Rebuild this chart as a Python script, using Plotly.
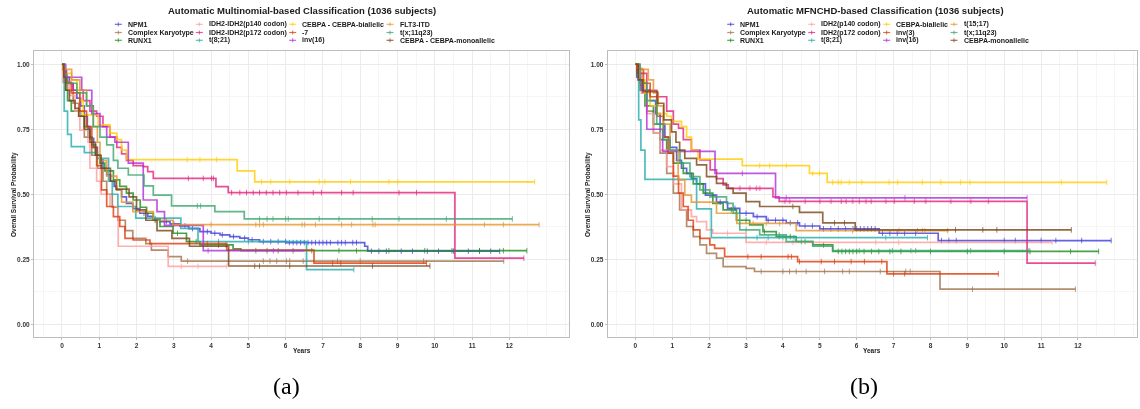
import plotly.graph_objects as go

W, H = 1140, 409

# ---------------- Panel (a): Multinomial-based ----------------
A_NPM1_T = [0, 0.05, 0.12, 0.2, 0.3, 0.4, 0.5, 0.6, 0.68, 0.75, 0.85, 0.95, 1.02, 1.1, 1.2, 1.3, 1.4, 1.47, 1.6, 1.73, 1.9, 2.09, 2.3, 2.45, 2.63, 2.9, 3.16, 3.4, 3.7, 4.0, 4.24, 4.5, 4.77, 5.0, 5.3, 6.02, 8.12, 8.2, 11.74]
A_NPM1_S = [1, 0.975, 0.95, 0.925, 0.9, 0.87, 0.84, 0.8, 0.76, 0.715, 0.68, 0.65, 0.632, 0.6, 0.575, 0.55, 0.53, 0.517, 0.49, 0.465, 0.445, 0.427, 0.415, 0.405, 0.395, 0.386, 0.378, 0.368, 0.356, 0.35, 0.344, 0.337, 0.331, 0.325, 0.318, 0.314, 0.3, 0.281, 0.281]
A_NPM1_C = [2.2, 2.5, 2.8, 3.0, 3.3, 3.5, 3.9, 4.1, 4.3, 4.6, 4.9, 5.1, 5.4, 5.6, 5.8, 6.0, 6.1, 6.2, 6.3, 6.4, 6.5, 6.6, 6.7, 6.8, 6.9, 7.0, 7.1, 7.2, 7.4, 7.5, 7.6, 7.8, 7.9, 8.3, 8.5, 8.7, 9.1, 9.4, 9.8, 10.1, 10.5, 10.9, 11.2, 11.5, 11.74]

A_CK_T = [0, 0.05, 0.15, 0.3, 0.45, 0.6, 0.8, 0.95, 1.1, 1.2, 1.35, 1.5, 1.7, 1.9, 2.25, 2.4, 2.85, 3.2, 11.85]
A_CK_S = [1, 0.95, 0.9, 0.85, 0.8, 0.72, 0.65, 0.6, 0.55, 0.5, 0.45, 0.4, 0.36, 0.33, 0.31, 0.285, 0.26, 0.243, 0.243]
A_CK_C = [3.37, 5.4, 5.58, 5.76, 6.02, 6.11, 6.47, 7.39, 8.0, 9.7, 11.85]

A_RUNX1_T = [0, 0.05, 0.1, 0.15, 0.25, 0.5, 0.6, 0.7, 0.8, 0.9, 1.02, 1.15, 1.38, 1.55, 1.73, 1.91, 2.1, 2.27, 2.45, 2.63, 2.98, 3.34, 3.7, 4.59, 4.8, 12.47]
A_RUNX1_S = [1, 0.93, 0.9, 0.86, 0.82, 0.8, 0.76, 0.72, 0.69, 0.65, 0.62, 0.59, 0.555, 0.53, 0.504, 0.478, 0.45, 0.427, 0.4, 0.376, 0.35, 0.318, 0.305, 0.29, 0.283, 0.283]
A_RUNX1_C = [2.5, 3.1, 3.6, 4.2, 4.4, 5.2, 5.5, 5.8, 6.2, 6.7, 7.43, 7.9, 8.77, 9.73, 10.46, 11.2, 11.84, 12.47]

A_P140_T = [0, 0.02, 0.2, 0.35, 0.48, 0.7, 0.75, 0.93, 1.05, 1.29, 1.51, 2.85, 4.42]
A_P140_S = [1, 0.93, 0.88, 0.82, 0.747, 0.7, 0.6, 0.55, 0.5, 0.453, 0.3, 0.223, 0.223]
A_P140_C = [3.2, 3.65, 4.42]

A_P172_T = [0, 0.05, 0.13, 0.3, 0.57, 0.75, 0.93, 1.1, 1.29, 1.47, 1.6, 1.73, 1.91, 2.18, 2.3, 2.45, 4.13, 4.46, 10.54, 12.39]
A_P172_S = [1, 0.965, 0.927, 0.9, 0.86, 0.82, 0.8, 0.76, 0.72, 0.68, 0.655, 0.63, 0.61, 0.606, 0.587, 0.561, 0.529, 0.506, 0.254, 0.254]
A_P172_C = [3.39, 3.79, 4.01, 4.06, 4.55, 4.77, 4.95, 5.13, 5.3, 5.48, 5.66, 5.84, 6.02, 6.33, 6.74, 6.96, 7.5, 7.81, 9.04, 9.51, 12.39]

A_T821_T = [0, 0.06, 0.15, 0.25, 0.6, 0.95, 1.25, 1.35, 1.5, 1.98, 3.19, 3.65, 6.56, 7.83]
A_T821_S = [1, 0.82, 0.73, 0.683, 0.66, 0.638, 0.55, 0.5, 0.453, 0.408, 0.369, 0.318, 0.21, 0.21]
A_T821_C = [4.2, 5.0, 7.83]

A_BIAL_T = [0, 0.05, 0.26, 0.4, 0.48, 0.57, 0.97, 1.29, 1.47, 1.6, 1.73, 4.7, 5.17, 12.68]
A_BIAL_S = [1, 0.965, 0.94, 0.9, 0.86, 0.805, 0.767, 0.735, 0.71, 0.67, 0.633, 0.59, 0.548, 0.548]
A_BIAL_C = [3.36, 3.7, 4.15, 5.35, 5.6, 6.11, 6.9, 7.05, 7.74, 8.77, 9.01, 12.68]

A_M7_T = [0, 0.03, 0.1, 0.25, 0.48, 0.66, 0.8, 0.93, 1.06, 1.2, 1.38, 1.55, 1.69, 1.91, 2.36, 4.42, 6.76, 9.78]
A_M7_S = [1, 0.98, 0.93, 0.89, 0.82, 0.76, 0.68, 0.61, 0.517, 0.453, 0.414, 0.376, 0.33, 0.324, 0.31, 0.285, 0.235, 0.235]
A_M7_C = [3.9, 4.2, 7.26, 7.48, 9.78]

A_INV16_T = [0, 0.1, 0.53, 0.8, 1.02, 1.2, 1.42, 1.78, 2.18, 2.55, 2.75, 3.79, 6.5]
A_INV16_S = [1, 0.95, 0.9, 0.81, 0.76, 0.72, 0.7, 0.62, 0.478, 0.433, 0.38, 0.283, 0.283]
A_INV16_C = [3.92, 5.67]

A_FLT3_T = [0, 0.03, 0.26, 0.48, 0.66, 0.84, 0.95, 1.02, 1.2, 1.47, 1.6, 1.9, 2.45, 2.98, 12.8]
A_FLT3_S = [1, 0.98, 0.94, 0.9, 0.84, 0.76, 0.7, 0.63, 0.57, 0.517, 0.47, 0.433, 0.4, 0.383, 0.383]
A_FLT3_C = [4.0, 5.2, 5.3, 5.4, 6.44, 6.51, 6.8, 7.5, 7.77, 8.34, 8.4, 11.33, 11.84, 12.8]

A_MLL_T = [0, 0.05, 0.12, 0.4, 0.66, 0.84, 1.02, 1.2, 1.38, 1.5, 1.78, 2.2, 2.45, 2.94, 4.1, 4.89, 12.08]
A_MLL_S = [1, 0.96, 0.927, 0.89, 0.84, 0.76, 0.72, 0.69, 0.63, 0.6, 0.574, 0.532, 0.497, 0.455, 0.433, 0.405, 0.405]
A_MLL_C = [3.63, 3.72, 5.3, 5.5, 5.66, 6.0, 6.07, 6.9, 7.43, 8.32, 9.04, 10.31, 12.08]

A_MONO_T = [0, 0.05, 0.1, 0.2, 0.35, 0.45, 0.6, 0.75, 0.9, 1.05, 1.3, 1.45, 1.8, 2.0, 2.25, 2.55, 2.95, 3.42, 4.47, 9.87]
A_MONO_S = [1, 0.95, 0.9, 0.86, 0.83, 0.8, 0.75, 0.7, 0.65, 0.6, 0.55, 0.52, 0.49, 0.44, 0.4, 0.36, 0.33, 0.3, 0.224, 0.224]
A_MONO_C = [5.17, 5.3, 6.11, 8.33, 9.87]

# ---------------- Panel (b): MFNCHD-based ----------------
B_NPM1_T = [0, 0.04, 0.15, 0.22, 0.4, 0.55, 0.67, 0.8, 0.94, 1.12, 1.25, 1.39, 1.52, 1.66, 1.9, 2.2, 2.5, 2.83, 3.2, 3.55, 4.09, 4.45, 5.0, 6.61, 8.21, 12.9]
B_NPM1_S = [1, 0.95, 0.92, 0.9, 0.86, 0.81, 0.77, 0.72, 0.68, 0.63, 0.6, 0.58, 0.56, 0.54, 0.497, 0.47, 0.446, 0.427, 0.414, 0.4, 0.39, 0.378, 0.367, 0.35, 0.322, 0.322]
B_NPM1_C = [2.3, 2.7, 3.0, 3.3, 3.6, 3.8, 4.0, 4.2, 4.4, 4.6, 4.8, 5.1, 5.3, 5.5, 5.7, 5.9, 6.0, 6.1, 6.2, 6.3, 6.4, 6.5, 6.7, 6.9, 7.1, 7.3, 7.6, 8.3, 8.5, 8.7, 10.0, 10.3, 11.0, 11.4, 12.1, 12.9]

B_CK_T = [0, 0.04, 0.17, 0.31, 0.49, 0.67, 0.85, 1.03, 1.2, 1.39, 1.57, 1.75, 1.93, 2.2, 2.38, 3.0, 3.23, 8.26, 11.93]
B_CK_S = [1, 0.965, 0.89, 0.82, 0.735, 0.658, 0.58, 0.504, 0.44, 0.376, 0.337, 0.305, 0.273, 0.254, 0.222, 0.215, 0.203, 0.135, 0.135]
B_CK_C = [3.41, 4.0, 4.18, 4.36, 4.63, 5.13, 5.62, 5.8, 6.64, 7.33, 7.45, 9.14, 11.93]

B_RUNX1_T = [0, 0.04, 0.13, 0.26, 0.49, 0.67, 0.85, 1.03, 1.3, 1.57, 1.84, 2.1, 2.38, 2.74, 3.1, 3.46, 3.82, 4.36, 4.81, 5.35, 12.56]
B_RUNX1_S = [1, 0.965, 0.9, 0.84, 0.77, 0.71, 0.658, 0.62, 0.58, 0.54, 0.504, 0.465, 0.44, 0.4, 0.382, 0.356, 0.337, 0.318, 0.305, 0.28, 0.28]
B_RUNX1_C = [2.6, 3.0, 3.5, 3.9, 4.2, 4.6, 5.1, 5.5, 5.6, 5.7, 5.8, 5.9, 6.0, 6.2, 6.4, 6.6, 6.9, 7.2, 8.0, 9.0, 10.0, 10.7, 11.8, 12.56]

B_P140_T = [0, 0.05, 0.17, 0.31, 0.49, 0.67, 0.85, 1.03, 1.25, 1.52, 1.66, 1.93, 2.1, 3.0, 11.3]
B_P140_S = [1, 0.985, 0.89, 0.81, 0.735, 0.67, 0.606, 0.54, 0.44, 0.414, 0.395, 0.363, 0.35, 0.315, 0.315]
B_P140_C = [2.5, 3.55, 4.27, 6.52, 7.14, 11.3]

B_P172_T = [0, 0.08, 0.31, 0.58, 0.85, 1.03, 1.17, 1.3, 1.52, 1.75, 2.03, 2.2, 2.38, 2.52, 3.73, 3.9, 10.62, 12.47]
B_P172_S = [1, 0.965, 0.9, 0.875, 0.82, 0.77, 0.754, 0.71, 0.67, 0.632, 0.594, 0.56, 0.536, 0.523, 0.49, 0.473, 0.235, 0.235]
B_P172_C = [2.83, 3.1, 3.28, 3.37, 4.05, 4.18, 4.6, 5.0, 5.3, 5.58, 5.71, 5.89, 6.07, 6.25, 6.39, 6.79, 7.02, 7.56, 7.87, 8.55, 9.09, 9.57, 12.47]

B_T821_T = [0, 0.09, 0.15, 0.26, 1.66, 2.06, 7.92]
B_T821_S = [1, 0.786, 0.67, 0.557, 0.444, 0.333, 0.333]
B_T821_C = [3.3, 3.6, 4.0, 4.3, 6.79, 7.92]

B_BIAL_T = [0, 0.12, 0.26, 0.4, 0.58, 0.85, 0.98, 1.25, 1.39, 1.52, 1.7, 2.9, 4.72, 5.2, 12.78]
B_BIAL_S = [1, 0.94, 0.89, 0.84, 0.81, 0.8, 0.78, 0.76, 0.72, 0.67, 0.635, 0.61, 0.58, 0.546, 0.546]
B_BIAL_C = [3.37, 3.64, 4.09, 4.81, 4.99, 5.35, 5.5, 5.58, 5.8, 6.14, 6.88, 7.11, 7.78, 8.28, 8.82, 9.07, 11.55, 12.78]

B_INV3_T = [0, 0.04, 0.22, 0.4, 0.58, 0.76, 0.89, 1.03, 1.17, 1.3, 1.43, 1.57, 1.75, 2.02, 2.15, 2.42, 4.4, 6.82, 9.84]
B_INV3_S = [1, 0.98, 0.927, 0.875, 0.8, 0.72, 0.658, 0.57, 0.504, 0.453, 0.4, 0.363, 0.33, 0.305, 0.292, 0.26, 0.241, 0.194, 0.194]
B_INV3_C = [3.05, 3.41, 4.14, 4.23, 4.45, 5.04, 5.4, 5.85, 6.21, 6.68, 7.0, 7.3, 9.84]

B_INV16_T = [0, 0.08, 0.17, 0.31, 0.74, 2.16, 3.8, 10.62]
B_INV16_S = [1, 0.94, 0.9, 0.75, 0.665, 0.58, 0.486, 0.486]
B_INV16_C = [2.9, 4.09, 7.31, 10.62]

B_T1517_T = [0, 0.12, 0.35, 0.49, 0.62, 0.76, 0.94, 1.16, 1.34, 1.52, 2.2, 2.75, 4.36, 8.5]
B_T1517_S = [1, 0.98, 0.94, 0.89, 0.84, 0.77, 0.67, 0.555, 0.497, 0.47, 0.427, 0.388, 0.36, 0.36]
B_T1517_C = [3.19, 3.55, 3.91, 5.89, 7.15, 7.65, 7.78, 7.85, 8.46]

B_MLL_T = [0, 0.13, 0.31, 0.58, 0.76, 0.94, 1.21, 1.48, 1.75, 2.02, 2.47, 2.65, 2.83, 3.37, 4.09, 4.81, 5.35, 10.67]
B_MLL_S = [1, 0.927, 0.86, 0.77, 0.71, 0.67, 0.62, 0.568, 0.517, 0.49, 0.465, 0.427, 0.363, 0.344, 0.318, 0.3, 0.283, 0.283]
B_MLL_C = [3.0, 3.9, 4.5, 6.07, 6.97, 7.47, 7.6, 9.09, 10.67]

B_MONO_T = [0, 0.08, 0.2, 0.6, 0.77, 0.98, 1.1, 1.2, 1.34, 1.66, 1.93, 2.2, 2.47, 2.65, 3.0, 3.37, 4.45, 5.08, 5.96, 11.82]
B_MONO_S = [1, 0.94, 0.895, 0.85, 0.786, 0.74, 0.7, 0.67, 0.638, 0.613, 0.568, 0.542, 0.523, 0.504, 0.472, 0.453, 0.43, 0.39, 0.363, 0.363]
B_MONO_C = [4.27, 5.4, 5.67, 8.68, 9.42, 9.8, 11.82]

# ---------------- labels / colours ----------------
A_TITLE = "Automatic Multinomial-based Classification (1036 subjects)"
B_TITLE = "Automatic MFNCHD-based Classification (1036 subjects)"
A_LABELS = ["NPM1", "Complex Karyotype", "RUNX1",
            "IDH2-IDH2(p140 codon)", "IDH2-IDH2(p172 codon)", "t(8;21)",
            "CEBPA - CEBPA-biallelic", "-7", "inv(16)",
            "FLT3-ITD", "t(x;11q23)", "CEBPA - CEBPA-monoallelic"]
B_LABELS = ["NPM1", "Complex Karyotype", "RUNX1",
            "IDH2(p140 codon)", "IDH2(p172 codon)", "t(8;21)",
            "CEBPA-biallelic", "inv(3)", "inv(16)",
            "t(15;17)", "t(x;11q23)", "CEBPA-monoallelic"]
COLORS = ["#3D3DDB", "#A0724B", "#1F8A1F",
          "#FF9E9E", "#E3217F", "#22ADAA",
          "#FFCC00", "#DD3A0A", "#B02FD9",
          "#E5952B", "#39A56E", "#7A4416"]
XTICKS = list(range(0, 13))
YTICKS = [0, 0.25, 0.5, 0.75, 1.0]

A_CURVES = [(A_NPM1_T, A_NPM1_S, A_NPM1_C), (A_CK_T, A_CK_S, A_CK_C), (A_RUNX1_T, A_RUNX1_S, A_RUNX1_C),
            (A_P140_T, A_P140_S, A_P140_C), (A_P172_T, A_P172_S, A_P172_C), (A_T821_T, A_T821_S, A_T821_C),
            (A_BIAL_T, A_BIAL_S, A_BIAL_C), (A_M7_T, A_M7_S, A_M7_C), (A_INV16_T, A_INV16_S, A_INV16_C),
            (A_FLT3_T, A_FLT3_S, A_FLT3_C), (A_MLL_T, A_MLL_S, A_MLL_C), (A_MONO_T, A_MONO_S, A_MONO_C)]
B_CURVES = [(B_NPM1_T, B_NPM1_S, B_NPM1_C), (B_CK_T, B_CK_S, B_CK_C), (B_RUNX1_T, B_RUNX1_S, B_RUNX1_C),
            (B_P140_T, B_P140_S, B_P140_C), (B_P172_T, B_P172_S, B_P172_C), (B_T821_T, B_T821_S, B_T821_C),
            (B_BIAL_T, B_BIAL_S, B_BIAL_C), (B_INV3_T, B_INV3_S, B_INV3_C), (B_INV16_T, B_INV16_S, B_INV16_C),
            (B_T1517_T, B_T1517_S, B_T1517_C), (B_MLL_T, B_MLL_S, B_MLL_C), (B_MONO_T, B_MONO_S, B_MONO_C)]


def step_at(T, S, t):
    v = S[0]
    for ti, si in zip(T, S):
        if ti <= t:
            v = si
    return v


fig = go.Figure()
for curves, labels, xa, ya in [(A_CURVES, A_LABELS, "x", "y"), (B_CURVES, B_LABELS, "x2", "y2")]:
    for (T, S, C), lab, col in zip(curves, labels, COLORS):
        fig.add_trace(go.Scatter(x=T, y=S, mode="lines", line=dict(color=col, width=1.7, shape="hv"),
                                 opacity=0.8, name=lab, showlegend=False, xaxis=xa, yaxis=ya))
        fig.add_trace(go.Scatter(x=C, y=[step_at(T, S, c) for c in C], mode="markers",
                                 marker=dict(symbol="line-ns", size=4, line=dict(color=col, width=1)),
                                 opacity=0.7, showlegend=False, hoverinfo="skip", xaxis=xa, yaxis=ya))

FONT = "Liberation Sans"


def px(x):
    return x / W


def py(y):
    return 1 - y / H


axis_common = dict(showline=True, mirror=True, linecolor="#BDBDBD", linewidth=1,
                   showgrid=True, gridcolor="#EBEBEB", gridwidth=0.8, zeroline=False,
                   ticks="outside", ticklen=2, tickcolor="#BDBDBD",
                   tickfont=dict(family=FONT, size=6.5, color="#333333", weight="bold"))
y_dom = [py(337), py(51)]
fig.update_layout(
    width=W, height=H, margin=dict(l=0, r=0, t=0, b=0),
    paper_bgcolor="white", plot_bgcolor="white", showlegend=False,
    xaxis=dict(domain=[px(34), px(569)], range=[-0.75, 13.6], tickvals=XTICKS, anchor="y",
               minor=dict(dtick=0.5, showgrid=True, gridcolor="#F5F5F5", gridwidth=0.5), **axis_common),
    yaxis=dict(domain=y_dom, range=[-0.049, 1.051], tickvals=YTICKS, tickformat=".2f", anchor="x",
               minor=dict(dtick=0.125, showgrid=True, gridcolor="#F5F5F5", gridwidth=0.5), **axis_common),
    xaxis2=dict(domain=[px(607.7), px(1137)], range=[-0.75, 13.6], tickvals=XTICKS, anchor="y2",
                minor=dict(dtick=0.5, showgrid=True, gridcolor="#F5F5F5", gridwidth=0.5), **axis_common),
    yaxis2=dict(domain=y_dom, range=[-0.049, 1.051], tickvals=YTICKS, tickformat=".2f", anchor="x2",
                minor=dict(dtick=0.125, showgrid=True, gridcolor="#F5F5F5", gridwidth=0.5), **axis_common),
)

ann = []
shapes = []
# titles
ann.append(dict(text="<b>" + A_TITLE + "</b>", x=px(302), y=py(11), xref="paper", yref="paper",
                showarrow=False, xanchor="center", yanchor="middle",
                font=dict(family=FONT, size=9.5, color="#1A1A1A")))
ann.append(dict(text="<b>" + B_TITLE + "</b>", x=px(875), y=py(11), xref="paper", yref="paper",
                showarrow=False, xanchor="center", yanchor="middle",
                font=dict(family=FONT, size=9.5, color="#1A1A1A")))
# axis titles
for xc, yl in [(302, 13.5), (872, 587.5)]:
    ann.append(dict(text="<b>Years</b>", x=px(xc), y=py(350), xref="paper", yref="paper", showarrow=False,
                    xanchor="center", yanchor="middle", font=dict(family=FONT, size=6.5, color="#1A1A1A")))
    ann.append(dict(text="<b>Overall Survival Probability</b>", x=px(yl), y=py(194.5), xref="paper",
                    yref="paper", showarrow=False, textangle=-90, xanchor="center", yanchor="middle",
                    font=dict(family=FONT, size=6.5, color="#1A1A1A")))

# manual compact legends
rows_y = [24.3, 32.5, 40.3]
A_COLS = [(118.3, 126), (199.3, 206.7), (292.7, 300), (390, 397.7)]
B_COLS = [(730.7, 737.7), (811.7, 819.3), (886.7, 893.7), (954, 961.7)]
for labels, cols in [(A_LABELS, A_COLS), (B_LABELS, B_COLS)]:
    for i, (lab, col) in enumerate(zip(labels, COLORS)):
        c, r = divmod(i, 3)
        gx, tx = cols[c]
        gy = rows_y[r]
        shapes.append(dict(type="line", xref="paper", yref="paper", x0=px(gx - 3.5), x1=px(gx + 3.5),
                           y0=py(gy), y1=py(gy), line=dict(color=col, width=1.2), opacity=0.75))
        shapes.append(dict(type="line", xref="paper", yref="paper", x0=px(gx), x1=px(gx),
                           y0=py(gy - 2), y1=py(gy + 2), line=dict(color=col, width=1), opacity=0.75))
        ann.append(dict(text="<b>" + lab + "</b>", x=px(tx), y=py(gy), xref="paper", yref="paper",
                        showarrow=False, xanchor="left", yanchor="middle",
                        font=dict(family=FONT, size=7, color="#1A1A1A")))

# sub-figure captions
for txt, xc in [("(a)", 286), ("(b)", 864)]:
    ann.append(dict(text=txt, x=px(xc), y=py(386), xref="paper", yref="paper", showarrow=False,
                    xanchor="center", yanchor="middle",
                    font=dict(family="Liberation Serif", size=24, color="#000000")))

fig.update_layout(annotations=ann, shapes=shapes)
fig.write_html("out.html")
